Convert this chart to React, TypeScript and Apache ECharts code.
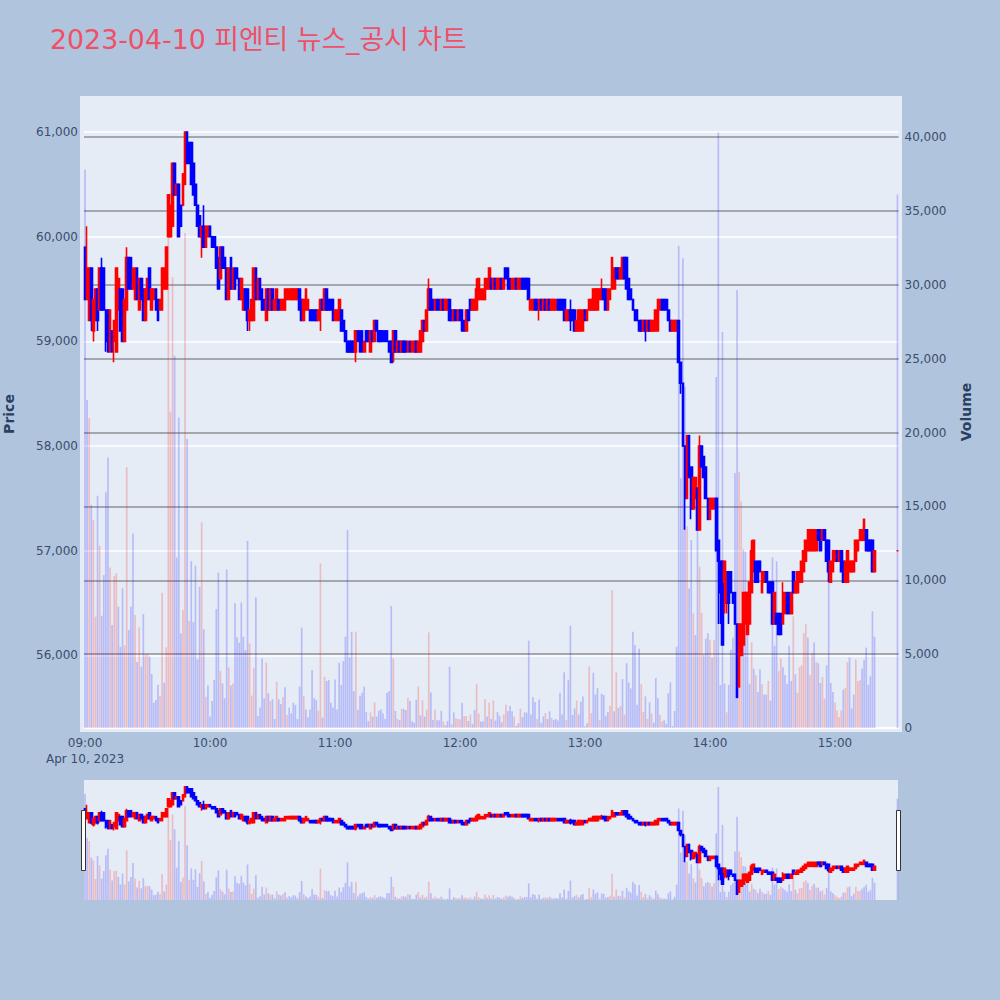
import React, { useEffect, useRef } from "react";
import * as echarts from "echarts";

const titleText = "2023-04-10 피엔티 뉴스_공시 차트";
const priceTicks = [56000, 57000, 58000, 59000, 60000, 61000];
const volumeTicks = [0, 5000, 10000, 15000, 20000, 25000, 30000, 35000, 40000];

const opens = [
  59900,59400,59200,59700,59100,59200,59500,59300,59700,59700,
  59300,59300,58900,59100,59000,58900,59300,59500,59500,59000,
  59300,59800,59800,59500,59400,59700,59300,59600,59500,59200,
  59400,59700,59300,59400,59500,59400,59300,59300,59500,59500,
  60000,60000,60100,60700,60400,60500,60300,60300,60500,61000,
  60900,60900,60700,60500,60300,60200,60000,60100,59900,60000,
  60100,60000,60000,59900,59800,59600,59900,59800,59700,59400,
  59800,59500,59700,59700,59600,59400,59300,59500,59500,59200,
  59200,59200,59700,59400,59600,59500,59400,59200,59500,59300,
  59500,59300,59300,59400,59300,59300,59300,59400,59400,59400,
  59400,59400,59400,59500,59400,59200,59300,59300,59300,59300,
  59300,59300,59200,59300,59400,59300,59500,59400,59400,59400,
  59200,59200,59200,59300,59200,59100,59000,59000,59000,59000,
  58900,59100,59100,59100,58900,59100,59100,58900,59100,59000,
  59200,59100,59100,59100,59100,59100,59000,59000,58900,59100,
  58900,59000,58900,59000,59000,58900,59000,58900,58900,59000,
  58900,58900,59000,59200,59100,59300,59500,59400,59300,59400,
  59400,59300,59400,59300,59300,59400,59300,59200,59300,59200,
  59300,59300,59200,59100,59300,59400,59300,59300,59300,59400,
  59400,59400,59400,59500,59500,59600,59500,59600,59500,59500,
  59600,59500,59700,59700,59600,59500,59500,59600,59500,59500,
  59600,59600,59600,59600,59300,59300,59400,59400,59300,59400,
  59300,59400,59300,59400,59300,59300,59300,59400,59400,59400,
  59400,59200,59200,59300,59300,59300,59100,59100,59100,59100,
  59300,59200,59300,59300,59300,59300,59300,59400,59400,59500,
  59500,59300,59400,59500,59500,59700,59700,59600,59600,59800,
  59800,59600,59500,59400,59300,59300,59200,59200,59100,59200,
  59100,59200,59100,59100,59100,59100,59300,59400,59400,59400,
  59300,59200,59100,59100,59100,59200,58800,58600,58000,57500,
  58100,57800,57400,57500,57600,57200,58000,57900,57800,57500,
  57300,57400,57400,57500,57100,56900,56900,56700,56500,56800,
  56800,56600,56600,56300,55700,56000,56100,56300,56200,56300,
  56600,56800,56900,56900,56900,56600,56700,56800,56700,56700,
  56700,56300,56400,56400,56400,56300,56400,56600,56600,56400,
  56800,56600,56600,56700,56700,56800,56900,57000,57000,57000,
  57000,57000,57200,57200,57100,57200,57100,57100,56700,56800,
  56900,57000,56900,57000,56900,56700,56700,56800,56800,56800,
  56900,57000,57100,57100,57100,57200,57100,57100,57100,56800,
  null,null,null,null,null,null,null,null,null,null,
  57000,
];

const closes = [
  59400,59700,59700,59200,59400,59500,59200,59700,59300,59300,
  59000,58900,59300,58900,59200,59700,59600,59100,59000,59400,
  59800,59500,59500,59700,59700,59400,59600,59400,59200,59500,
  59600,59400,59500,59500,59300,59200,59400,59700,59700,59900,
  60400,60300,60700,60400,60500,60000,60100,60600,61000,60700,
  60700,60500,60400,60300,60100,60000,60100,59900,60100,60100,
  60000,59900,59900,59700,59500,59900,59700,59700,59400,59700,
  59500,59700,59500,59600,59400,59600,59500,59300,59200,59300,
  59400,59700,59400,59600,59400,59300,59300,59500,59300,59500,
  59300,59400,59500,59300,59400,59400,59500,59500,59500,59500,
  59500,59500,59500,59300,59200,59400,59500,59400,59200,59200,
  59200,59200,59300,59400,59300,59500,59300,59300,59300,59200,
  59300,59300,59400,59100,59100,59000,58900,58900,58900,58900,
  59100,59000,58900,58900,59000,59000,59000,59100,59000,59200,
  59100,59000,59000,59000,59000,59000,58900,58800,59100,58900,
  59000,58900,59000,58900,58900,59000,58900,59000,59000,58900,
  59000,59100,59200,59100,59300,59500,59300,59300,59400,59300,
  59300,59400,59300,59400,59400,59200,59200,59300,59200,59300,
  59200,59100,59100,59300,59200,59300,59400,59400,59500,59600,
  59500,59500,59600,59600,59700,59500,59600,59500,59600,59600,
  59500,59600,59600,59500,59500,59600,59600,59500,59600,59600,
  59500,59500,59500,59400,59400,59400,59300,59300,59400,59300,
  59400,59300,59400,59300,59400,59400,59400,59300,59300,59300,
  59200,59300,59300,59200,59200,59100,59200,59300,59300,59300,
  59200,59300,59400,59400,59500,59500,59500,59500,59500,59400,
  59300,59500,59500,59800,59700,59600,59600,59700,59800,59600,
  59500,59400,59400,59300,59200,59200,59100,59100,59200,59100,
  59200,59100,59200,59200,59300,59400,59400,59300,59300,59300,
  59200,59100,59200,59200,59200,58800,58600,58000,57500,58100,
  57700,57400,57700,57700,57200,58000,57800,57700,57500,57300,
  57500,57500,57500,57000,56900,56600,56100,56900,56800,56500,
  56600,56500,56300,55600,56300,56300,56600,56600,56600,56700,
  57000,57100,56700,56700,56800,56800,56800,56700,56600,56600,
  56300,56600,56300,56200,56200,56600,56600,56400,56400,56600,
  56600,56700,56800,56800,56900,57000,57100,57200,57200,57200,
  57200,57200,57100,57000,57200,57100,56900,56800,56900,57000,
  57000,56900,57000,56800,56700,56900,57000,56900,56900,56900,
  57100,57100,57200,57200,57300,57000,57000,57000,56800,57000,
  null,null,null,null,null,null,null,null,null,null,
  57000,
];

// wicks that reach beyond the candle body (minute index: price)
const upperWicks: Record<number, number> = {
  1: 60100, 8: 59800, 20: 59900, 57: 60300, 165: 59600, 188: 59600,
  233: 59400, 248: 59600, 295: 58100, 320: 57100, 335: 56700,
};
const lowerWicks: Record<number, number> = {
  3: 59100, 4: 59000, 6: 59100, 10: 58900, 14: 58800, 56: 59800, 78: 59100, 79: 59100,
  113: 59100, 130: 58800, 148: 58800, 218: 59200, 233: 59100, 269: 59000, 286: 58500,
  288: 57200, 291: 57300, 304: 56300, 305: 56300, 307: 56400, 308: 56400, 309: 56300, 357: 56700,
};

const volumes = [
  37800,22200,20960,15090,14080,7530,15720,12340,7600,10350,
  15950,18300,10870,6970,10290,10470,8210,5500,9450,5600,
  17640,6630,8210,13170,7650,4470,6810,4150,7720,4940,
  5050,4830,3650,1710,1900,2930,2170,9160,3070,5460,
  36100,21400,30500,25200,11530,21000,6400,7990,33500,19560,
  7260,11300,7170,10990,4650,9560,13920,6680,2120,2890,
  770,1830,3250,8050,10510,3860,3020,2010,10740,4100,
  2870,3020,8440,6140,5780,8500,6180,5280,12660,5730,
  2190,4080,8840,810,1380,4710,2010,4440,2350,1830,
  1960,610,3140,1940,1620,2100,2750,880,1380,990,
  1710,1560,610,2800,6790,2170,1260,720,1260,3930,
  2010,1900,1170,11140,700,3470,3180,3250,1710,1380,
  3290,1260,4420,2910,4530,6180,13400,4780,6520,2500,
  6520,1220,2190,2390,2800,1100,470,1060,770,1740,
  770,1170,1260,990,610,2390,2500,8260,4710,1150,
  610,540,1310,1290,1220,2030,1830,450,360,1900,
  2820,860,1870,770,1240,6470,2410,540,1260,520,
  520,1170,450,200,470,4150,250,1060,650,610,
  590,1710,810,810,470,900,270,1220,2980,990,
  430,450,1940,770,1710,610,1870,500,1080,830,
  380,920,1580,1150,1490,1130,770,135,320,1310,
  740,1060,1040,5910,920,2100,1760,610,1920,360,
  790,1010,610,1130,680,540,610,500,2390,920,
  3770,540,3230,6930,880,1330,1870,920,1780,2140,
  135,320,4170,1010,3740,2260,2710,540,2320,2230,
  830,1080,1490,9340,1130,3770,1350,1490,3320,920,
  4380,3070,2680,6520,5620,1580,5370,2960,1080,2140,
  610,1740,990,360,3380,2030,900,450,520,290,
  2350,3090,135,1150,5500,32640,16900,31800,23100,13630,
  9450,12720,7760,6290,13400,10920,7800,4940,6050,6420,
  5970,4780,5970,23750,40300,2900,26800,3000,1060,2920,
  5300,6100,17260,29640,17330,15340,12080,11940,6500,3000,
  5800,4000,3580,2440,3980,2970,2260,2260,3180,1860,
  11540,5570,11280,3850,4720,4110,3580,2970,5570,3180,
  7560,3640,2390,4110,4250,6420,7030,6100,3600,5100,
  5790,4460,4380,3050,3450,1990,4250,11940,3050,2440,
  1730,1190,720,1190,2600,2710,4460,4780,1330,2260,
  4640,3180,3240,4030,4600,5440,2920,3500,7910,6180,
  null,null,null,null,null,null,null,null,null,null,
  36100,
];

// r = rising minute, b = falling minute, one letter per volume bar
const volumeSides = [
  "bbrbrrbrbb","bbrbrrbbbr","rbbbrbrbbr","rbbbbbrrbr","rrrbbbbrrb",
  "rbbbbbrbrb","bbbbbrbbbr","brbbbbbbbr","rrbbbbbrbr","bbrbbrbrbb",
  "bbbbbrbbbb","bbrrbrbbbb","bbbbbbbbbb","rbbbbbbrbr","bbbbbbbbrb",
  "rbrbbrbbbb","rbrbrrbbrb","bbrbbbrbrr","rbrrbrbbrr","bbrbrbrbbb",
  "brrbbbrbbr","bbbbbbbrbb","brbbrbbbbb","brbbbbrbbb","rbrrbbbrbb",
  "bbrrbrbrbr","bbbbbbbrrb","rbrbbbrrbb","bbbbbbbbbr","bbrbbrrbbb",
  "rbrbbbbbrb","bbbbrrbbbb","rbrbbrbbrb","bbbrrbbbbb","rbrrrrrbrr",
  "brbbrrbbbb","rrrrbrrbbb","rrrbbbbbbb","bbbbbbbbbb","b",
].join("");

const minuteLabels = opens.map((_, i) => {
  const total = 9 * 60 + i;
  const hh = String(Math.floor(total / 60)).padStart(2, "0");
  const mm = String(total % 60).padStart(2, "0");
  return `${hh}:${mm}`;
});

const candles = opens.map((o, i) => {
  const c = closes[i];
  if (o === null || c === null) return "-";
  return [o, c, lowerWicks[i] ?? Math.min(o, c), upperWicks[i] ?? Math.max(o, c)];
});

const bars = volumes.map((v, i) =>
  v === null
    ? "-"
    : { value: v, itemStyle: { color: volumeSides[i] === "r" ? "rgba(255,0,0,0.2)" : "rgba(0,0,255,0.2)" } }
);

const INK = "#3a4d6d";
const FONT = "'DejaVu Sans', Verdana, sans-serif";

function buildOption() {
  const grids = [
    { left: 84, right: 101.5, top: 96, height: 632, containLabel: false, outerBoundsMode: "none" },
    { left: 84, right: 101.5, top: 780, height: 120, containLabel: false, outerBoundsMode: "none" },
  ];
  const num = (v: number) => v.toLocaleString("en-US");
  const candleSeries = (xi: number, yi: number) => ({
    type: "candlestick",
    xAxisIndex: xi,
    yAxisIndex: yi,
    data: candles,
    barWidth: 2.2,
    z: 5,
    itemStyle: {
      color: "#ff0000",
      color0: "#0000ff",
      borderColor: "#ff0000",
      borderColor0: "#0000ff",
      borderColorDoji: "#ff0000",
      borderWidth: 1.6,
    },
  });
  const barSeries = (xi: number, yi: number) => ({
    type: "bar",
    xAxisIndex: xi,
    yAxisIndex: yi,
    data: bars,
    barWidth: 1.7,
    z: 3,
  });
  return {
    animation: false,
    backgroundColor: "#b0c4de",
    textStyle: { fontFamily: FONT },
    title: {
      text: titleText,
      left: 50,
      top: 26.5,
      padding: 0,
      textStyle: { color: "#ef5068", fontSize: 26.8, fontWeight: "normal", fontFamily: "'DejaVu Sans', 'Noto Sans CJK KR', sans-serif" },
    },
    graphic: [
      { type: "rect", z: -10, shape: { x: 80, y: 96, width: 822, height: 636 }, style: { fill: "#e5ecf6" }, silent: true },
      { type: "rect", z: -10, shape: { x: 84, y: 780, width: 814, height: 120 }, style: { fill: "#e5ecf6" }, silent: true },
      { type: "rect", z: 20, shape: { x: 81.5, y: 810.5, width: 4, height: 60 }, style: { fill: "#ffffff", stroke: "#333333", lineWidth: 1 }, silent: true },
      { type: "rect", z: 20, shape: { x: 896.5, y: 810.5, width: 4, height: 60 }, style: { fill: "#ffffff", stroke: "#333333", lineWidth: 1 }, silent: true },
    ],
    grid: grids,
    xAxis: [
      {
        type: "category",
        gridIndex: 0,
        data: minuteLabels,
        boundaryGap: true,
        axisLine: { show: true, lineStyle: { color: "#ffffff", width: 2 } },
        axisTick: { show: false },
        splitLine: { show: false },
        axisLabel: {
          color: INK,
          fontSize: 12,
          fontFamily: FONT,
          margin: 7,
          lineHeight: 16,
          interval: (i: number) => i % 60 === 0 && i < 390,
          formatter: (v: string) => (v === "09:00" ? "09:00\nApr 10, 2023" : v),
        },
      },
      {
        type: "category",
        gridIndex: 1,
        data: minuteLabels,
        boundaryGap: true,
        axisLine: { show: false },
        axisTick: { show: false },
        axisLabel: { show: false },
        splitLine: { show: false },
      },
    ],
    yAxis: [
      {
        type: "value",
        gridIndex: 0,
        position: "left",
        min: 55307,
        max: 61344,
        name: "Price",
        nameLocation: "middle",
        nameGap: 68,
        nameTextStyle: { color: "#2a3f5f", fontSize: 14, fontWeight: "bold", fontFamily: FONT, padding: [0, 4, 0, 0] },
        axisLine: { show: false },
        axisTick: { show: false, customValues: priceTicks },
        axisLabel: { color: INK, fontSize: 12, fontFamily: FONT, margin: 6, customValues: priceTicks, formatter: num },
        splitLine: { show: true, lineStyle: { color: "#ffffff", width: 1.5 } },
      },
      {
        type: "value",
        gridIndex: 0,
        position: "right",
        min: 0,
        max: 42775,
        name: "Volume",
        nameLocation: "middle",
        nameGap: 60,
        nameTextStyle: { color: "#2a3f5f", fontSize: 14, fontWeight: "bold", fontFamily: FONT, padding: [0, 0, 0, 0] },
        axisLine: { show: false },
        axisTick: { show: false, customValues: volumeTicks },
        axisLabel: { color: INK, fontSize: 12, fontFamily: FONT, margin: 6, customValues: volumeTicks, formatter: num },
        splitLine: { show: true, lineStyle: { color: "#8f9197", width: 1.5 } },
      },
      { type: "value", gridIndex: 1, min: 55307, max: 61344, show: false, splitLine: { show: false } },
      { type: "value", gridIndex: 1, min: 0, max: 42775, show: false, splitLine: { show: false } },
    ],
    series: [barSeries(0, 1), candleSeries(0, 0), barSeries(1, 3), candleSeries(1, 2)],
  };
}

export default function App() {
  const ref = useRef<HTMLDivElement>(null);
  useEffect(() => {
    const chart = echarts.init(ref.current!, undefined, { renderer: "svg" });
    chart.setOption(buildOption() as any);
    return () => chart.dispose();
  }, []);
  return <div ref={ref} style={{ position: "absolute", left: 0, top: 0, width: 1000, height: 1000 }} />;
}
